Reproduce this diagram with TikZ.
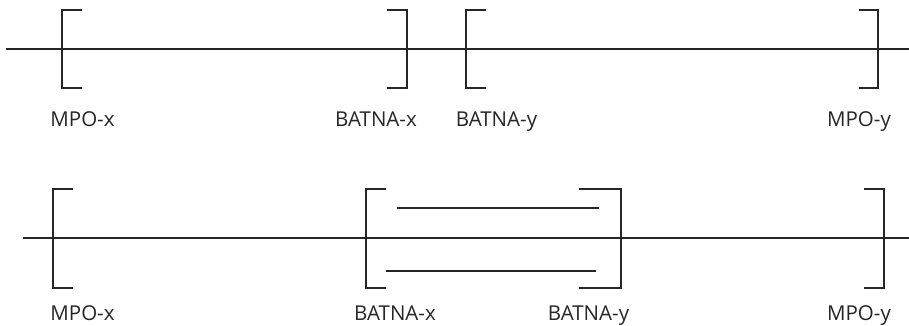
\documentclass[tikz,border=0pt]{standalone}
\usepackage{fontspec}
\setmainfont{Open Sans}
\begin{document}
\begin{tikzpicture}[x=1pt,y=-1pt,
  ln/.style={line width=1.1pt,draw=black!85},
  lbl/.style={font=\fontsize{20.5}{24}\selectfont,text=black!85,inner sep=0pt,anchor=base}]
\useasboundingbox (0,0) rectangle (909,326);
% ---------- upper scale: ranges do not overlap ----------
\draw[ln] (6,49) -- (909,49);
\draw[ln] (82,10) -- (62,10) -- (62,88) -- (82,88);     % MPO-x
\draw[ln] (387,10) -- (407,10) -- (407,88) -- (387,88); % BATNA-x
\draw[ln] (486,10) -- (466,10) -- (466,88) -- (486,88); % BATNA-y
\draw[ln] (859,10) -- (878,10) -- (878,88) -- (859,88); % MPO-y
\node[lbl] (t1) at (82.5,126) {MPO-x};
\node[lbl] (t2) at (376,126) {BATNA-x};
\node[lbl] (t3) at (496.5,126) {BATNA-y};
\node[lbl] (t4) at (859,126) {MPO-y};
% ---------- lower scale: ranges overlap ----------
\draw[ln] (23,238) -- (909,238);
\draw[ln] (73,189) -- (53,189) -- (53,288) -- (73,288);     % MPO-x
\draw[ln] (386,189) -- (366,189) -- (366,288) -- (386,288); % BATNA-x
\draw[ln] (579,189) -- (621,189) -- (621,288) -- (579,288); % BATNA-y
\draw[ln] (864,189) -- (884,189) -- (884,288) -- (864,288); % MPO-y
\draw[ln] (397,208) -- (599,208);
\draw[ln] (386,271) -- (596,271);
\node[lbl] (b1) at (82.5,320) {MPO-x};
\node[lbl] (b2) at (395,320) {BATNA-x};
\node[lbl] (b3) at (588.5,320) {BATNA-y};
\node[lbl] (b4) at (859,320) {MPO-y};
\end{tikzpicture}
\end{document}
